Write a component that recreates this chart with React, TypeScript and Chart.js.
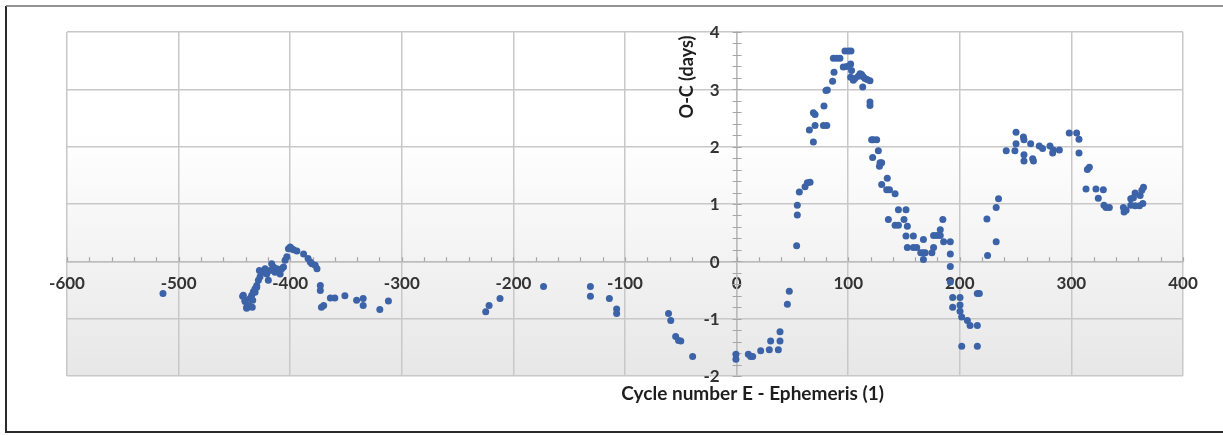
import React, { useEffect, useRef } from "react";
import { Chart, registerables } from "chart.js";

Chart.register(...registerables);

// Cycle number E (epochs) and O-C residuals (days)
const cycleE: number[] = [
  -514, -442.6, -442, -440.5, -440.5, -439, -439, -437.5, -436.6, -436, -434.5, -434, -433.6, -433, -431.5, -431.5,
  -430, -430, -428.5, -427.6, -427, -424, -422.5, -421, -419.6, -418, -416.6, -415, -413.6, -412, -410.6,
  -409, -407.6, -406, -404.6, -403, -401.6, -400, -398.6, -397, -394, -388, -384, -382, -380.6, -377.6,
  -376, -373, -373, -372, -370, -364, -360, -351, -340.5, -334.6, -334.6, -319.7, -312,
  -224.8, -221.8, -212, -173, -131, -131, -114, -107.5, -107.5, -61, -59, -54.6, -52, -50, -39.4, -0.6, -0.6,
  10.5, 12.6, 14.4, 21.6, 29.3, 30.5, 37.4, 38.9, 38.9, 45.5, 47.2, 53.8, 54.4, 54.4, 56.2, 61.3, 63.4, 65.8,
  65.2, 68.8, 70.3, 68.8, 70.3, 77.8, 80.8, 78.3, 80.1, 81.3, 86, 87.3, 86.7, 89.7, 92.6, 95.6, 97.1, 100.1,
  102.5, 98.6, 102.2, 103, 102.2, 104.6, 106, 109, 110.6, 112, 113.5, 115, 117, 119.5, 113, 119.5, 119.5,
  121, 122.5, 125.5, 121.9, 127, 128.5, 130, 128, 135, 130, 134.5, 137, 136,
  142, 145, 151.8, 142, 145, 150, 153, 151.8, 158.4, 153, 158.4, 161.4, 167.4, 165, 167.4, 169, 167.4, 175,
  176.5, 176.5, 179.5, 182.5, 182.5, 184.8, 185.5, 191.5, 191.5, 191.5, 191.5, 193.6, 200.2, 193.6, 200.2,
  200.2, 201.7, 206.8, 209.2, 215.7, 215.7, 217.5, 201.7, 215.7, 224.3, 224.9, 232.6, 232.6, 234.7, 241.6,
  249.4, 250.4, 250.4, 257, 257.5, 257.5, 257.5, 265.3, 266, 263.5, 271.2, 274.2, 280.8, 283.2, 283.8, 289.2,
  298.1, 304.7, 306.8, 306.8, 314.3, 316.1, 313.1, 322, 328.6, 324.1, 329.2, 331, 334, 346.6, 347.2, 349,
  353.2, 353.2, 355.6, 357.1, 357.1, 361, 361.6, 363.1, 364.6, 364,
];

const ocDays: number[] = [
  -0.56, -0.61, -0.59, -0.68, -0.7, -0.8, -0.82, -0.77, -0.78, -0.65, -0.59, -0.8, -0.68, -0.53, -0.48, -0.54,
  -0.42, -0.45, -0.33, -0.16, -0.27, -0.19, -0.13, -0.22, -0.33, -0.16, -0.04, -0.1, -0.19, -0.13, -0.16,
  -0.22, -0.13, -0.1, 0.02, 0.08, 0.22, 0.25, 0.22, 0.2, 0.18, 0.13, 0.05, -0.01, -0.04, -0.07,
  -0.13, -0.42, -0.51, -0.8, -0.77, -0.64, -0.64, -0.6, -0.68, -0.65, -0.77, -0.84, -0.69,
  -0.88, -0.77, -0.65, -0.44, -0.44, -0.61, -0.65, -0.83, -0.91, -0.91, -1.03, -1.31, -1.38, -1.39, -1.66, -1.62, -1.71,
  -1.62, -1.66, -1.66, -1.56, -1.54, -1.39, -1.54, -1.39, -1.23, -0.75, -0.52, 0.27, 0.81, 0.98, 1.21, 1.3, 1.37, 1.38,
  2.29, 2.08, 2.37, 2.59, 2.56, 2.37, 2.37, 2.71, 2.98, 2.99, 3.14, 3.3, 3.54, 3.54, 3.54, 3.39, 3.67, 3.67,
  3.67, 3.4, 3.44, 3.33, 3.21, 3.16, 3.19, 3.23, 3.27, 3.26, 3.22, 3.19, 3.17, 3.15, 3.04, 2.78, 2.72,
  2.12, 2.12, 2.12, 1.81, 1.93, 1.72, 1.72, 1.66, 1.45, 1.34, 1.25, 1.25, 0.73,
  1.18, 0.9, 0.9, 0.63, 0.63, 0.73, 0.61, 0.44, 0.44, 0.24, 0.24, 0.24, 0.38, 0.15, 0.15, 0.15, 0.03, 0.15,
  0.24, 0.45, 0.45, 0.55, 0.45, 0.73, 0.34, 0.34, 0.13, -0.09, -0.36, -0.63, -0.63, -0.8, -0.76,
  -0.87, -0.97, -1.03, -1.12, -1.12, -0.56, -0.56, -1.48, -1.48, 0.74, 0.1, 0.34, 0.94, 1.09, 1.93,
  1.93, 2.05, 2.25, 2.17, 2.12, 1.86, 1.75, 1.79, 1.75, 2.05, 2.01, 1.97, 2.01, 1.89, 1.94, 1.94,
  2.24, 2.24, 2.13, 1.89, 1.6, 1.64, 1.26, 1.26, 1.25, 1.1, 0.98, 0.94, 0.94, 0.94, 0.86, 0.89,
  0.98, 1.09, 1.11, 1.19, 0.97, 0.97, 1.15, 1.24, 1.29, 1.01,
];

const xTicks: number[] = [-600, -500, -400, -300, -200, -100, 0, 100, 200, 300, 400];
const yTicks: number[] = [-2, -1, 0, 1, 2, 3, 4];
const xMinorStep = 20;
const yMinorStep = 0.2;

const xTitle = "Cycle number E - Ephemeris (1)";
const yTitle = "O-C (days)";

const FONT = "Lato, 'Open Sans', sans-serif";
const TICK_COLOR = "#333333";

const decor = {
  id: "decor",
  beforeDraw(chart: any) {
    const { ctx, chartArea: a } = chart;
    ctx.save();
    ctx.fillStyle = "#ffffff";
    ctx.fillRect(0, 0, chart.width, chart.height);
    const g = ctx.createLinearGradient(0, a.top, 0, a.bottom);
    g.addColorStop(0, "#ffffff");
    g.addColorStop(0.3, "#ffffff");
    g.addColorStop(1, "#e7e7e7");
    ctx.fillStyle = g;
    ctx.fillRect(a.left, a.top, a.right - a.left, a.bottom - a.top);
    ctx.restore();
  },
  beforeDatasetsDraw(chart: any) {
    const { ctx } = chart;
    const xs = chart.scales.x;
    const ys = chart.scales.y;
    const x0 = xs.getPixelForValue(0);
    const y0 = ys.getPixelForValue(0);
    ctx.save();
    ctx.strokeStyle = "#a6a6a6";
    ctx.lineWidth = 1.2;
    ctx.beginPath();
    for (let v = xs.min; v <= xs.max + 1e-9; v += xMinorStep) {
      const px = Math.round(xs.getPixelForValue(v)) + 0.5;
      ctx.moveTo(px, y0 - 4);
      ctx.lineTo(px, y0);
    }
    for (let v = ys.min; v <= ys.max + 1e-9; v += yMinorStep) {
      const py = Math.round(ys.getPixelForValue(v)) + 0.5;
      ctx.moveTo(x0 - 4, py);
      ctx.lineTo(x0 + 5, py);
    }
    ctx.stroke();

    // y tick labels, placed left of the crossing axis
    ctx.fillStyle = TICK_COLOR;
    ctx.font = `bold 17px ${FONT}`;
    ctx.textAlign = "right";
    ctx.textBaseline = "middle";
    yTicks.forEach((v) => {
      ctx.fillText(String(v), x0 - 17, ys.getPixelForValue(v) + 1);
    });
    ctx.restore();
  },
  afterDraw(chart: any) {
    const { ctx, chartArea: a } = chart;
    const x0 = chart.scales.x.getPixelForValue(0);
    ctx.save();
    ctx.fillStyle = "#1e1e1e";
    ctx.font = `bold 19px ${FONT}`;
    ctx.textAlign = "center";
    ctx.textBaseline = "middle";
    ctx.fillText(xTitle, x0 + 16, a.bottom + 18);
    ctx.font = `bold 18px ${FONT}`;
    ctx.translate(x0 - 49, a.top + 45);
    ctx.rotate(-Math.PI / 2);
    ctx.fillText(yTitle, 0, 0);
    ctx.restore();

    // outer chart frame
    ctx.save();
    ctx.strokeStyle = "#2a2a2a";
    ctx.lineWidth = 2;
    ctx.beginPath();
    ctx.moveTo(chart.width + 5, 432);
    ctx.lineTo(6, 432);
    ctx.lineTo(6, 6);
    ctx.stroke();
    ctx.strokeStyle = "#6e6e6e";
    ctx.lineWidth = 1.5;
    ctx.beginPath();
    ctx.moveTo(6, 6);
    ctx.lineTo(chart.width + 5, 6);
    ctx.stroke();
    ctx.restore();
  },
};

export default function App() {
  const ref = useRef<HTMLCanvasElement | null>(null);

  useEffect(() => {
    document.body.style.margin = "0";
    if (!ref.current) return;
    const points = cycleE.map((e, i) => ({ x: e, y: ocDays[i] }));
    const tickFont = { family: FONT, weight: "bold" as const, size: 17 };
    const chart = new Chart(ref.current, {
      type: "scatter",
      data: {
        datasets: [
          {
            data: points,
            backgroundColor: "#3c63a7",
            borderColor: "#3c63a7",
            borderWidth: 0,
            pointRadius: 3.5,
            pointHoverRadius: 3.5,
          },
        ],
      },
      options: {
        animation: false,
        responsive: true,
        maintainAspectRatio: false,
        layout: { padding: { left: 67, right: 40, top: 32, bottom: 59 } },
        plugins: { legend: { display: false }, tooltip: { enabled: false } },
        scales: {
          x: {
            type: "linear",
            min: -600,
            max: 400,
            position: { y: 0 } as any,
            afterBuildTicks: (s: any) => {
              s.ticks = xTicks.map((v) => ({ value: v }));
            },
            grid: { color: "#c8c8c8", lineWidth: 1.5, drawTicks: false },
            border: { display: true, color: "#bcbcbc", width: 1.5 },
            ticks: {
              padding: 12,
              color: TICK_COLOR,
              font: tickFont,
              autoSkip: false,
              maxRotation: 0,
            },
          },
          y: {
            type: "linear",
            min: -2,
            max: 4,
            position: { x: 0 } as any,
            afterBuildTicks: (s: any) => {
              s.ticks = yTicks.map((v) => ({ value: v }));
            },
            grid: { color: "#c8c8c8", lineWidth: 1.5, drawTicks: false },
            border: { display: true, color: "#bcbcbc", width: 1.5 },
            ticks: { display: false },
          },
        },
      },
      plugins: [decor],
    });
    return () => chart.destroy();
  }, []);

  return (
    <div style={{ position: "relative", width: 1223, height: 435 }}>
      <canvas ref={ref} />
    </div>
  );
}
